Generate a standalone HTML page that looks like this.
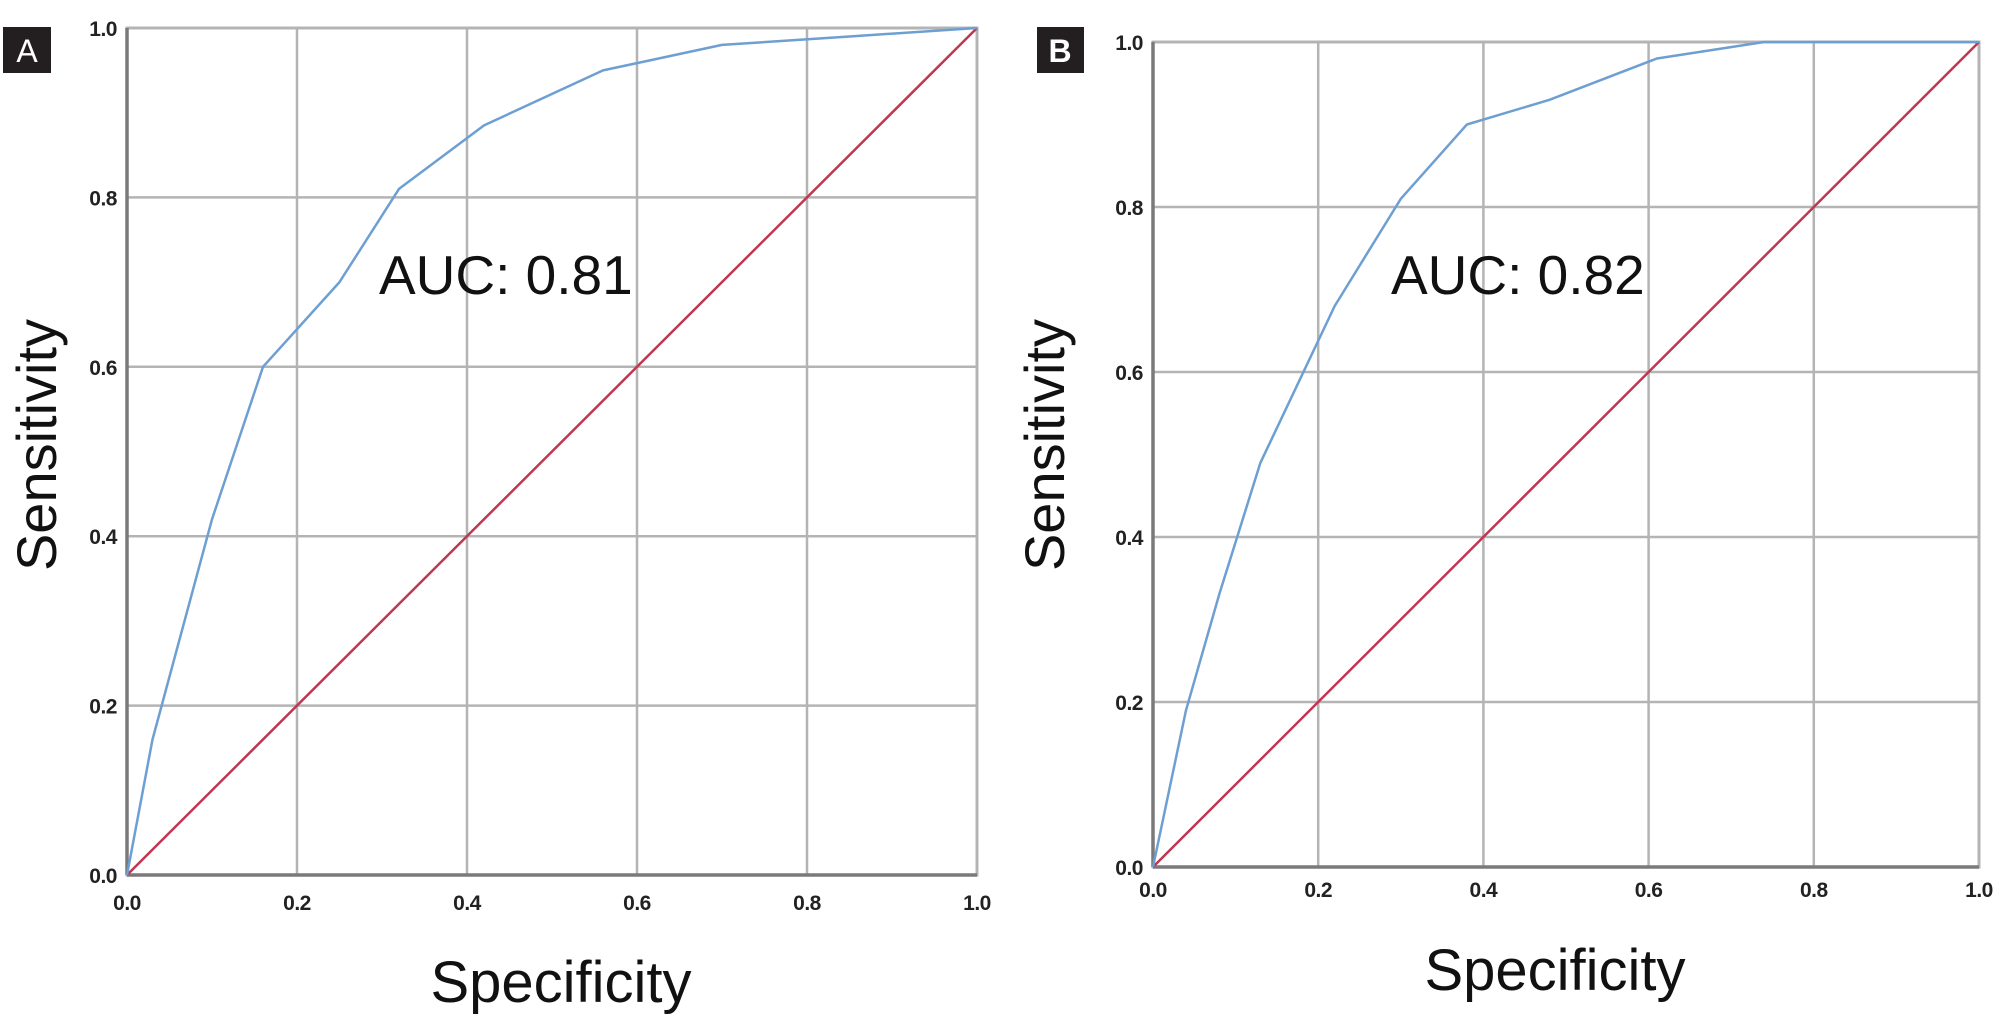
<!DOCTYPE html>
<html><head><meta charset="utf-8">
<style>
html,body{margin:0;padding:0;background:#fff;}
svg{display:block;}
text{font-family:"Liberation Sans",Arial,sans-serif;}
</style></head>
<body>
<svg id="fig" width="2010" height="1021" viewBox="0 0 2010 1021" xmlns="http://www.w3.org/2000/svg">
  <rect width="2010" height="1021" fill="#fff"/>
  <g>
    <rect x="3" y="27" width="48" height="46" fill="#231f20"/>
    <text x="27" y="62" font-size="32" fill="#fff" text-anchor="middle">A</text>
  </g>
  <g>
    <rect x="1037" y="27" width="47" height="46" fill="#231f20"/>
    <text x="1060" y="62" font-size="32" fill="#fff" font-weight="bold" text-anchor="middle">B</text>
  </g>
  <g id="pa"></g>
  <g id="pb"></g>
</svg>
<script>
const ticks = [0, 0.2, 0.4, 0.6, 0.8, 1.0];
const tickLabels = ["0.0", "0.2", "0.4", "0.6", "0.8", "1.0"];
const specA = [0, 0.03, 0.1, 0.16, 0.25, 0.32, 0.42, 0.56, 0.70, 0.85, 1.0];
const sensA = [0, 0.16, 0.42, 0.60, 0.70, 0.81, 0.885, 0.95, 0.98, 0.99, 1.0];
const specB = [0, 0.04, 0.08, 0.13, 0.22, 0.30, 0.38, 0.48, 0.61, 0.74, 1.0];
const sensB = [0, 0.19, 0.33, 0.49, 0.68, 0.81, 0.90, 0.93, 0.98, 1.0, 1.0];
const refLine = [0, 1];
const aucLabels = ["AUC: 0.81", "AUC: 0.82"];

const NS = "http://www.w3.org/2000/svg";
function mk(tag, attrs, parent){
  const e = document.createElementNS(NS, tag);
  for (const k in attrs) e.setAttribute(k, attrs[k]);
  parent.appendChild(e);
  return e;
}

function drawPanel(g, cfg, xs, ys, auc){
  const X = v => cfg.x0 + v * (cfg.x1 - cfg.x0);
  const Y = v => cfg.y0 - v * (cfg.y0 - cfg.y1);
  ticks.forEach((t, i) => {
    if (i > 0 && i < ticks.length - 1) {
      const gv = mk('line', {x1: X(t), x2: X(t), y1: Y(0), y2: Y(1), stroke: '#b4b4b4', 'stroke-width': 2.5}, g);
      
      
      const gh = mk('line', {x1: X(0), x2: X(1), y1: Y(t), y2: Y(t), stroke: '#b4b4b4', 'stroke-width': 2.5}, g);
      
      
    }
  });
  const fr = mk('rect', {x: X(0), y: Y(1), width: X(1) - X(0), height: Y(0) - Y(1), fill: 'none', stroke: '#b4b4b4', 'stroke-width': 3}, g);
  
  
  const ax = mk('line', {x1: X(0), x2: X(1), y1: Y(0), y2: Y(0), stroke: '#7a7a7a', 'stroke-width': 3.5}, g);
  
  
  const ay = mk('line', {x1: X(0), x2: X(0), y1: Y(0), y2: Y(1), stroke: '#7a7a7a', 'stroke-width': 3.5}, g);
  
  
  const ref = mk('line', {x1: X(refLine[0]), y1: Y(refLine[0]), x2: X(refLine[1]), y2: Y(refLine[1]), stroke: '#c0374f', 'stroke-width': 2.5}, g);
  
  
  const pts = xs.map((v, i) => X(v).toFixed(1) + ',' + Y(ys[i]).toFixed(1)).join(' ');
  const roc = mk('polyline', {points: pts, fill: 'none', stroke: '#6e9fd3', 'stroke-width': 2.5, 'stroke-linejoin': 'round'}, g);
  
  
  ticks.forEach((t, i) => {
    const tx = mk('text', {x: X(t), y: cfg.xLabelY, 'font-size': 21, 'font-weight': 'bold', 'letter-spacing': '-0.5', 'text-anchor': 'middle', fill: '#222'}, g);
    tx.textContent = tickLabels[i];
    
    
    const ty = mk('text', {x: cfg.yLabelX, y: Y(t) + 8, 'font-size': 21, 'font-weight': 'bold', 'letter-spacing': '-0.5', 'text-anchor': 'end', fill: '#222'}, g);
    ty.textContent = tickLabels[i];
    
    
  });
  const xt = mk('text', {x: cfg.xTitleX, y: cfg.xTitleY, 'font-size': 58, 'text-anchor': 'middle', fill: '#111'}, g);
  xt.textContent = 'Specificity';
  
  
  const yt = mk('text', {x: 0, y: 0, 'font-size': 56, 'text-anchor': 'middle', fill: '#111', transform: 'translate(' + cfg.yTitleX + ',445) rotate(-90)'}, g);
  yt.textContent = 'Sensitivity';
  
  
  const at = mk('text', {x: cfg.aucX, y: 294, 'font-size': 55, fill: '#111'}, g);
  at.textContent = auc;
  
  
}

drawPanel(document.getElementById('pa'),
  {x0: 127, x1: 977, y0: 875, y1: 28, xLabelY: 910, yLabelX: 117, xTitleX: 561, xTitleY: 1002, yTitleX: 56, aucX: 379},
  specA, sensA, aucLabels[0]);
drawPanel(document.getElementById('pb'),
  {x0: 1153, x1: 1979, y0: 867, y1: 42, xLabelY: 897, yLabelX: 1143, xTitleX: 1555, xTitleY: 990, yTitleX: 1064, aucX: 1391},
  specB, sensB, aucLabels[1]);
</script>
</body></html>
